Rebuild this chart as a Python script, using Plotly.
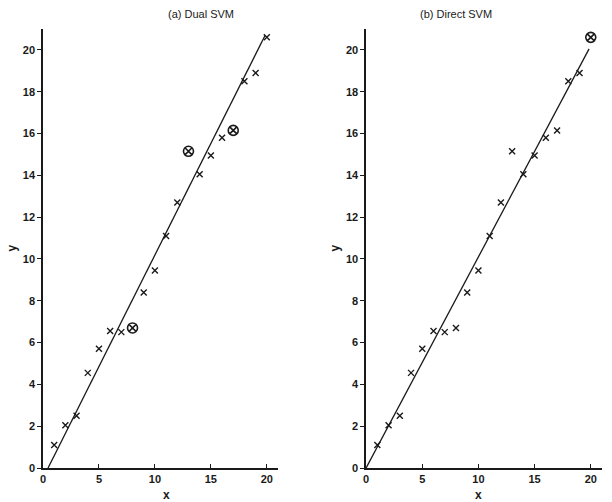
import plotly.graph_objects as go

x_vals = [1, 2, 3, 4, 5, 6, 7, 8, 9, 10, 11, 12, 13, 14, 15, 16, 17, 18, 19, 20]
y_vals = [1.1, 2.05, 2.5, 4.55, 5.7, 6.55, 6.5, 6.7, 8.4, 9.45, 11.1, 12.7,
          15.15, 14.05, 14.95, 15.8, 16.15, 18.5, 18.9, 20.6]

sv_dual = [8, 13, 17]
sv_direct = [20]

line_dual_x = [0.45, 19.85]
line_dual_y = [0.0, 20.7]
line_direct_x = [0.0, 19.85]
line_direct_y = [0.0, 20.05]

titles = ["(a) Dual SVM", "(b) Direct SVM"]
x_ticks = [0, 5, 10, 15, 20]
y_ticks = [0, 2, 4, 6, 8, 10, 12, 14, 16, 18, 20]

INK = "#1a1a1a"
FONT = "Liberation Sans, Arial, sans-serif"

fig = go.Figure()

panels = [
    ("x", "y", sv_dual, line_dual_x, line_dual_y),
    ("x2", "y2", sv_direct, line_direct_x, line_direct_y),
]

for xa, ya, sv, lx, ly in panels:
    fig.add_trace(go.Scatter(x=lx, y=ly, mode="lines", xaxis=xa, yaxis=ya,
                             line=dict(color=INK, width=1.3), showlegend=False))
    px = [xv for xv in x_vals if xv not in sv]
    py = [yv for xv, yv in zip(x_vals, y_vals) if xv not in sv]
    fig.add_trace(go.Scatter(x=px, y=py, mode="markers", xaxis=xa, yaxis=ya,
                             marker=dict(symbol="x-thin", size=6,
                                         line=dict(color=INK, width=1.4)),
                             showlegend=False))
    sx = [xv for xv in x_vals if xv in sv]
    sy = [yv for xv, yv in zip(x_vals, y_vals) if xv in sv]
    fig.add_trace(go.Scatter(x=sx, y=sy, mode="markers", xaxis=xa, yaxis=ya,
                             marker=dict(symbol="circle-x-open", size=10,
                                         color=INK,
                                         line=dict(color=INK, width=1.6)),
                             showlegend=False))

axis_common = dict(
    showgrid=False, zeroline=False, showline=True, linecolor=INK, linewidth=1.5,
    ticks="outside", ticklen=4, tickcolor=INK, tickwidth=1,
    tickfont=dict(family=FONT, size=11, color=INK, weight="bold"),
    range=[0, 21],
)

fig.update_layout(
    width=612, height=502,
    margin=dict(l=43, r=10, t=29, b=34),
    paper_bgcolor="white", plot_bgcolor="white",
    font=dict(family=FONT, color=INK),
    xaxis=dict(domain=[0, 0.4204], tickvals=x_ticks, anchor="y",
               **{**axis_common, "ticks": "inside"}),
    yaxis=dict(domain=[0, 1], tickvals=y_ticks, anchor="x", **axis_common),
    xaxis2=dict(domain=[0.578, 1], tickvals=x_ticks, anchor="y2",
                **{**axis_common, "ticks": "inside"}),
    yaxis2=dict(domain=[0, 1], tickvals=y_ticks, anchor="x2", **axis_common),
)

annots = [
    dict(text=titles[0], x=0.2102 + 0.01, y=1, xref="paper", yref="paper",
         yanchor="bottom", yshift=7, showarrow=False, font=dict(size=11)),
    dict(text=titles[1], x=0.789 + 0.018, y=1, xref="paper", yref="paper",
         yanchor="bottom", yshift=7, showarrow=False, font=dict(size=11)),
    dict(text="x", x=0.2102, y=0, xref="paper", yref="paper", yanchor="top",
         yshift=-18, showarrow=False, font=dict(size=12, weight="bold")),
    dict(text="x", x=0.789, y=0, xref="paper", yref="paper", yanchor="top",
         yshift=-18, showarrow=False, font=dict(size=12, weight="bold")),
    dict(text="y", x=0, y=0.5, xref="paper", yref="paper", xanchor="right",
         xshift=-23, textangle=-90, showarrow=False, font=dict(size=12, weight="bold")),
    dict(text="y", x=0.578, y=0.5, xref="paper", yref="paper", xanchor="right",
         xshift=-23, textangle=-90, showarrow=False, font=dict(size=12, weight="bold")),
]
fig.update_layout(annotations=annots)

fig.write_html("out.html")
